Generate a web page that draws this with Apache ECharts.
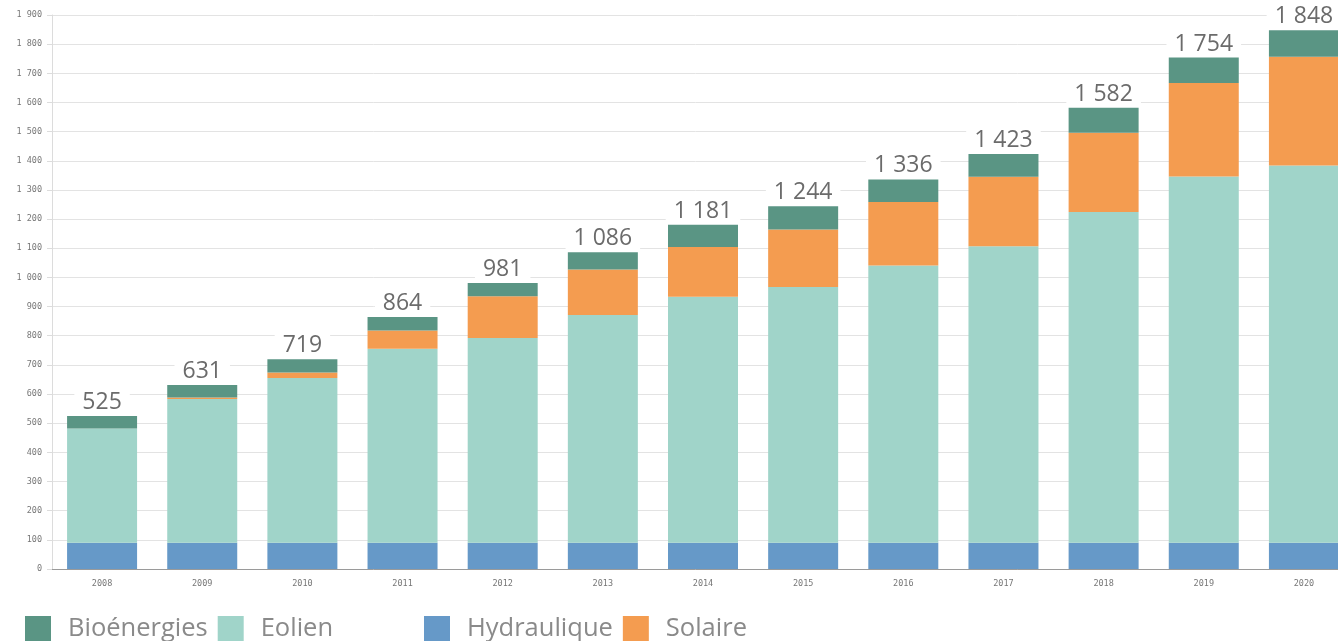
<!DOCTYPE html>
<html>
<head>
<meta charset="utf-8">
<title>Capacités renouvelables</title>
<style>
html,body{margin:0;padding:0;background:#fff;}
#chart{width:1338px;height:641px;}
</style>
</head>
<body>
<div id="chart"></div>
<script src="https://cdn.jsdelivr.net/npm/echarts@6/dist/echarts.min.js"></script>
<script>
var years = ['2008','2009','2010','2011','2012','2013','2014','2015','2016','2017','2018','2019','2020'];
var hydraulique = [90, 90, 90, 90, 90, 90, 90, 90, 90, 90, 90, 90, 90];
var eolien      = [392, 493, 565, 665, 702, 781, 844, 877, 951, 1017, 1134, 1256, 1294];
var solaire     = [0, 5, 19, 63, 143, 156, 170, 197, 218, 238, 272, 321, 373];
var bioenergies = [43, 43, 45, 46, 46, 59, 77, 80, 77, 78, 86, 87, 91];
var totals      = [525, 631, 719, 864, 981, 1086, 1181, 1244, 1336, 1423, 1582, 1754, 1848];

function fmt(v){ return String(v).replace(/\B(?=(\d{3})+(?!\d))/g, ' '); }

var chart = echarts.init(document.getElementById('chart'));
var legendText = {fontFamily:'Open Sans', fontSize:25.5, color:'#8a8a8a', padding:[0,0,0,12]};
var option = {
    animation: false,
    grid: {left: 52, top: 15, width: 1302, bottom: 72, outerBoundsMode: 'none', containLabel: false},
    legend: [
        {left: 20, top: 611, itemWidth: 26, itemHeight: 26, itemGap: 10, icon: 'rect',
         data: ['Bioénergies','Eolien'], textStyle: legendText},
        {left: 419, top: 611, itemWidth: 26, itemHeight: 26, itemGap: 10, icon: 'rect',
         data: ['Hydraulique','Solaire'], textStyle: legendText}
    ],
    xAxis: {
        type: 'category', data: years,
        axisLine: {lineStyle: {color: '#9a9a9a'}},
        axisTick: {show: false},
        axisLabel: {fontFamily: 'DejaVu Sans Mono', fontSize: 8.5, color: '#777', margin: 10}
    },
    yAxis: {
        type: 'value', min: 0, max: 1900, interval: 100,
        axisLine: {show: true, lineStyle: {color: '#dcdcdc'}},
        axisTick: {show: true, length: 5, lineStyle: {color: '#dcdcdc'}},
        splitLine: {lineStyle: {color: '#e3e3e3'}},
        axisLabel: {fontFamily: 'DejaVu Sans Mono', fontSize: 8.5, color: '#777', margin: 10,
            formatter: fmt}
    },
    series: [
        {name: 'Hydraulique', type: 'bar', stack: 't', barWidth: 70, data: hydraulique,
         itemStyle: {color: '#6699c8'}},
        {name: 'Eolien', type: 'bar', stack: 't', barWidth: 70, data: eolien,
         itemStyle: {color: '#a0d4c9'}},
        {name: 'Solaire', type: 'bar', stack: 't', barWidth: 70, data: solaire,
         itemStyle: {color: '#f49c50'}},
        {name: 'Bioénergies', type: 'bar', stack: 't', barWidth: 70, data: bioenergies,
         itemStyle: {color: '#5a9584'},
         label: {show: true, position: 'top', distance: 2,
            fontFamily: 'Open Sans', fontSize: 23, color: '#6b6b6b',
            backgroundColor: '#fff', padding: [0, 8, 0, 8],
            formatter: function(p){ return fmt(totals[p.dataIndex]); }}}
    ]
};
chart.setOption(option);
</script>
</body>
</html>
